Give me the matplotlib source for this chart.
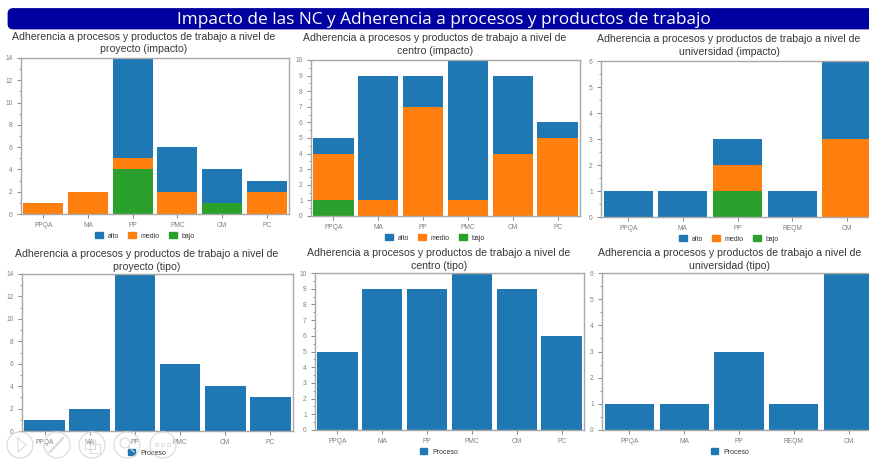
import matplotlib
matplotlib.use("Agg")
import matplotlib.pyplot as plt
from matplotlib.patches import FancyBboxPatch, Circle, Patch
from matplotlib.ticker import MultipleLocator

W, H = 870, 459
plt.rcParams['font.family'] = ['Liberation Sans', 'DejaVu Sans']

BLUE, ORANGE, GREEN = '#1f77b4', '#ff7f0e', '#2ca02c'

cats_a = ['PPQA', 'MA', 'PP', 'PMC', 'CM', 'PC']
cats_u = ['PPQA', 'MA', 'PP', 'REQM', 'CM']

proy_bajo = [0, 0, 4, 0, 1, 0]
proy_medio = [1, 2, 1, 2, 0, 2]
proy_alto = [0, 0, 9, 4, 3, 1]

cent_bajo = [1, 0, 0, 0, 0, 0]
cent_medio = [3, 1, 7, 1, 4, 5]
cent_alto = [1, 8, 2, 9, 5, 1]

univ_bajo = [0, 0, 1, 0, 0]
univ_medio = [0, 0, 1, 0, 3]
univ_alto = [1, 1, 1, 1, 3]

proy_tipo = [1, 2, 14, 6, 4, 3]
cent_tipo = [5, 9, 9, 10, 9, 6]
univ_tipo = [1, 1, 3, 1, 6]

T = 'Adherencia a procesos y productos de trabajo a nivel de\n'
fig = plt.figure(figsize=(W / 100, H / 100), dpi=100, facecolor='white')


def px_axes(l, t, r, b):
    return fig.add_axes([l / W, 1 - b / H, (r - l) / W, (b - t) / H])


def panel(box, cats, series, ymax, ymaj, title, tx, ty, legx, legy):
    ax = px_axes(*box)
    xs = list(range(len(cats)))
    bottom = [0] * len(cats)
    handles = []
    for name, vals, col in series:
        ax.bar(xs, vals, 0.9, bottom=bottom, color=col, linewidth=0)
        bottom = [a + b for a, b in zip(bottom, vals)]
        handles.append(Patch(color=col, label=name))
    ax.set_xlim(-0.5, len(cats) - 0.5)
    ax.set_ylim(0, ymax)
    ax.set_xticks(xs, cats)
    ax.yaxis.set_major_locator(MultipleLocator(ymaj))
    ax.yaxis.set_minor_locator(MultipleLocator(ymaj / 2))
    ax.tick_params(axis='both', which='major', labelsize=4.8, labelcolor='#808080',
                   color='#888888', length=3, width=0.7, pad=3)
    ax.tick_params(axis='y', which='minor', color='#888888', length=1.5, width=0.6)
    for s in ax.spines.values():
        s.set_color('#a8a8a8')
        s.set_linewidth(1.0)
    fig.text(tx / W, 1 - ty / H, title, ha='center', va='center', fontsize=7.6,
             color='#383838', linespacing=1.26)
    order = handles[::-1]
    fig.legend(handles=order, loc='center', bbox_to_anchor=(legx / W, 1 - legy / H),
               ncols=len(order), frameon=False, fontsize=5, labelcolor='#333333',
               handlelength=1.1, handleheight=0.9, handletextpad=0.7, columnspacing=1.3,
               borderpad=0)
    return ax


def stack(b, m, a):
    return [('bajo', b, GREEN), ('medio', m, ORANGE), ('alto', a, BLUE)]


panel((21, 58, 289, 214), cats_a, stack(proy_bajo, proy_medio, proy_alto), 14, 2,
      T + 'proyecto (impacto)', 144, 43, 145, 236)
panel((311, 60, 580, 216), cats_a, stack(cent_bajo, cent_medio, cent_alto), 10, 1,
      T + 'centro (impacto)', 435, 44.5, 435, 238)
panel((601, 61, 874, 217), cats_u, stack(univ_bajo, univ_medio, univ_alto), 6, 1,
      T + 'universidad (impacto)', 729, 45.5, 729, 239)
panel((22, 274, 293, 431), cats_a, [('Proceso', proy_tipo, BLUE)], 14, 2,
      T + 'proyecto (tipo)', 147, 260.5, 147, 453)
panel((315, 273, 584, 430), cats_a, [('Proceso', cent_tipo, BLUE)], 10, 1,
      T + 'centro (tipo)', 439, 259.5, 439, 452)
panel((602, 273, 876, 430), cats_u, [('Proceso', univ_tipo, BLUE)], 6, 1,
      T + 'universidad (tipo)', 730, 259.5, 730, 452)

# Full-figure overlay in pixel coordinates: title band and player controls
ov = fig.add_axes([0, 0, 1, 1], zorder=10)
ov.set_xlim(0, W)
ov.set_ylim(H, 0)
ov.axis('off')
ov.patch.set_alpha(0)
ov.add_patch(FancyBboxPatch((9, 9.5), 870, 18.5, boxstyle='round,pad=0,rounding_size=4',
                            fc='#0000a0', ec='#0000a0', lw=2))
ov.text(444, 19.5, 'Impacto de las NC y Adherencia a procesos y productos de trabajo',
        color='white', fontsize=12.4, ha='center', va='center',
        family=['Open Sans', 'DejaVu Sans'])
LIGHT = '#dcdcdc'
for cx in (20, 57, 92, 127, 163):
    ov.add_patch(Circle((cx, 445), 13, fc='none', ec=LIGHT, lw=0.9))
ov.plot([18, 18, 26, 18], [438, 452, 445, 438], color=LIGHT, lw=0.8)
ov.plot([50, 63], [452, 438], color=LIGHT, lw=1.8)
ov.add_patch(plt.Rectangle((85, 440), 10, 9, fc='none', ec=LIGHT, lw=0.8))
ov.add_patch(plt.Rectangle((90, 444), 10, 9, fc='none', ec=LIGHT, lw=0.8))
ov.add_patch(Circle((125, 443), 5, fc='none', ec=LIGHT, lw=0.9))
ov.plot([129, 134], [447, 452], color=LIGHT, lw=0.9)
for dx in (157, 163, 169):
    ov.add_patch(Circle((dx, 445), 1.6, fc='none', ec=LIGHT, lw=0.7))

fig.savefig('out.png', dpi=100)
